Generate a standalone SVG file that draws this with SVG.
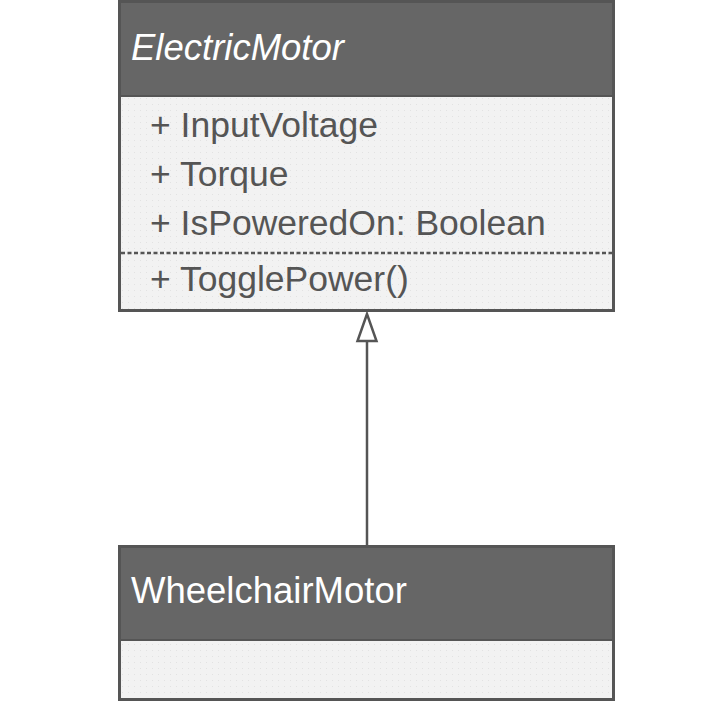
<svg xmlns="http://www.w3.org/2000/svg" width="727" height="702" viewBox="0 0 727 702">
<defs>
<pattern id="dots" width="6" height="6" patternUnits="userSpaceOnUse">
<rect x="2" y="2" width="1" height="1" fill="#e2e2e2"/>
</pattern>
<style>
.hdr{fill:#666666}
.body{fill:#f2f2f2}
.tex{fill:url(#dots)}
.frame{fill:none;stroke:#555555;stroke-width:3}
.div{stroke:#555555;stroke-width:2}
.title{font-family:"Liberation Sans",Arial,sans-serif;font-size:36.5px;fill:#ffffff}
.member{font-family:"Liberation Sans",Arial,sans-serif;font-size:35.5px;fill:#555555}
.conn{stroke:#555555;stroke-width:2.5;fill:none}
</style>
</defs>
<rect width="727" height="702" fill="#ffffff"/>
<g id="ElectricMotor">
<rect class="hdr" x="119" y="1" width="495" height="95"/>
<rect class="body" x="119" y="96" width="495" height="215"/>
<rect class="tex" x="119" y="96" width="495" height="215"/>
<line class="div" x1="119" y1="96" x2="614" y2="96"/>
<line x1="121" y1="253" x2="612" y2="253" stroke="#555555" stroke-width="2.5" stroke-dasharray="4,2.5"/>
<rect class="frame" x="119.5" y="1.5" width="494" height="309"/>
<text class="title" x="131" y="60" font-style="italic" font-size="37.5">ElectricMotor</text>
<text class="member" x="150" y="137">+ InputVoltage</text>
<text class="member" x="150" y="186">+ Torque</text>
<text class="member" x="150" y="235">+ IsPoweredOn: Boolean</text>
<text class="member" x="150" y="291">+ TogglePower()</text>
</g>
<g id="WheelchairMotor">
<rect class="hdr" x="119" y="546" width="495" height="94"/>
<rect class="body" x="119" y="640" width="495" height="60"/>
<rect class="tex" x="119" y="640" width="495" height="60"/>
<line class="div" x1="119" y1="640" x2="614" y2="640"/>
<rect class="frame" x="119.5" y="546.5" width="494" height="153"/>
<text class="title" x="131" y="603">WheelchairMotor</text>
</g>
<g id="connectors">
<line class="conn" x1="367" y1="341" x2="367" y2="545"/>
<polygon points="367,314 357.5,341 376.5,341" fill="#ffffff" stroke="#555555" stroke-width="2.5" stroke-linejoin="miter"/>
</g>
</svg>
